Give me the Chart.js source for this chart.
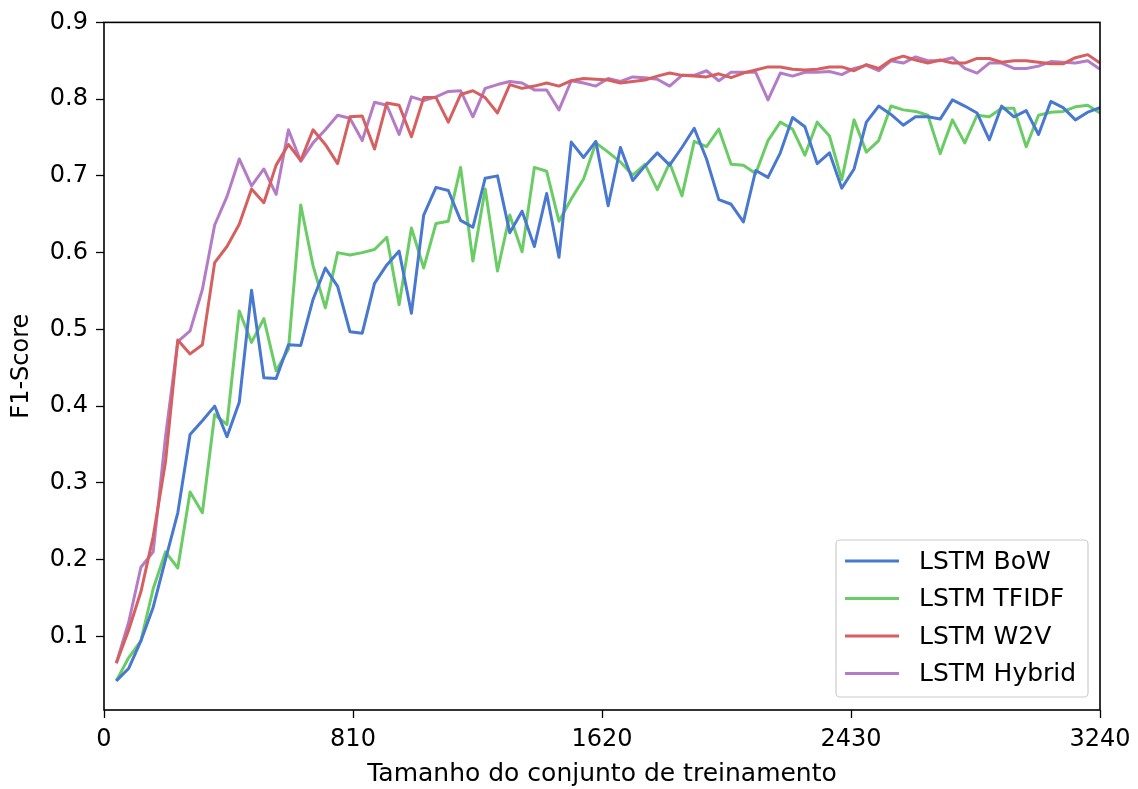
<!DOCTYPE html>
<html lang="pt">
<head>
<meta charset="utf-8">
<title>F1-Score LSTM</title>
<script src="https://cdn.jsdelivr.net/npm/chart.js@4.4.1/dist/chart.umd.min.js"></script>
<style>
    html, body { margin: 0; padding: 0; background: #fff; }
    #plot { display: block; }
</style>
</head>
<body>
<canvas id="plot" width="1138" height="789"></canvas>
<script>
'use strict';

// tamanho do conjunto de treinamento (eixo x)
const trainSizes = [
    40, 80, 120, 160, 200, 240, 280, 320, 360, 400,
    440, 480, 520, 560, 600, 640, 680, 720, 760, 800,
    840, 880, 920, 960, 1000, 1040, 1080, 1120, 1160, 1200,
    1240, 1280, 1320, 1360, 1400, 1440, 1480, 1520, 1560, 1600,
    1640, 1680, 1720, 1760, 1800, 1840, 1880, 1920, 1960, 2000,
    2040, 2080, 2120, 2160, 2200, 2240, 2280, 2320, 2360, 2400,
    2440, 2480, 2520, 2560, 2600, 2640, 2680, 2720, 2760, 2800,
    2840, 2880, 2920, 2960, 3000, 3040, 3080, 3120, 3160, 3200,
    3240
];

const bowScores = [
    0.042, 0.058, 0.094, 0.138, 0.200, 0.261, 0.363, 0.381, 0.400, 0.360,
    0.405, 0.551, 0.437, 0.436, 0.480, 0.479, 0.539, 0.580, 0.556, 0.497,
    0.495, 0.560, 0.584, 0.602, 0.521, 0.649, 0.685, 0.681, 0.642, 0.633,
    0.697, 0.700, 0.626, 0.654, 0.608, 0.677, 0.594, 0.744, 0.724, 0.745,
    0.661, 0.737, 0.694, 0.713, 0.730, 0.714, 0.737, 0.762, 0.722, 0.669,
    0.663, 0.640, 0.707, 0.698, 0.730, 0.776, 0.764, 0.716, 0.730, 0.684,
    0.709, 0.770, 0.791, 0.780, 0.766, 0.777, 0.777, 0.774, 0.799, 0.791,
    0.782, 0.747, 0.791, 0.777, 0.785, 0.754, 0.797, 0.789, 0.773, 0.783,
    0.789
];

const tfidfScores = [
    0.042, 0.072, 0.094, 0.162, 0.210, 0.189, 0.288, 0.261, 0.389, 0.376,
    0.524, 0.483, 0.514, 0.446, 0.474, 0.662, 0.583, 0.528, 0.600, 0.597,
    0.600, 0.604, 0.620, 0.532, 0.632, 0.580, 0.638, 0.641, 0.711, 0.589,
    0.683, 0.576, 0.649, 0.601, 0.711, 0.706, 0.641, 0.670, 0.696, 0.743,
    0.731, 0.718, 0.701, 0.715, 0.682, 0.717, 0.674, 0.745, 0.738, 0.761,
    0.715, 0.714, 0.703, 0.746, 0.770, 0.761, 0.727, 0.770, 0.752, 0.695,
    0.773, 0.731, 0.746, 0.791, 0.786, 0.784, 0.779, 0.729, 0.773, 0.743,
    0.779, 0.777, 0.788, 0.788, 0.738, 0.779, 0.783, 0.784, 0.790, 0.792,
    0.782
];

const w2vScores = [
    0.065, 0.108, 0.158, 0.230, 0.327, 0.486, 0.468, 0.480, 0.587, 0.608,
    0.637, 0.683, 0.665, 0.714, 0.741, 0.720, 0.760, 0.741, 0.716, 0.777,
    0.778, 0.735, 0.795, 0.792, 0.751, 0.802, 0.802, 0.770, 0.806, 0.811,
    0.802, 0.782, 0.819, 0.814, 0.817, 0.821, 0.817, 0.824, 0.827, 0.826,
    0.825, 0.821, 0.823, 0.825, 0.830, 0.834, 0.831, 0.830, 0.829, 0.833,
    0.828, 0.834, 0.838, 0.842, 0.842, 0.839, 0.838, 0.839, 0.842, 0.842,
    0.837, 0.845, 0.840, 0.851, 0.856, 0.851, 0.847, 0.851, 0.847, 0.847,
    0.853, 0.853, 0.848, 0.850, 0.850, 0.848, 0.846, 0.846, 0.854, 0.858,
    0.847
];

const hybridScores = [
    0.065, 0.118, 0.190, 0.210, 0.360, 0.484, 0.498, 0.552, 0.636, 0.673,
    0.722, 0.687, 0.709, 0.676, 0.760, 0.719, 0.743, 0.760, 0.779, 0.775,
    0.746, 0.796, 0.792, 0.754, 0.803, 0.798, 0.803, 0.810, 0.811, 0.777,
    0.814, 0.819, 0.823, 0.821, 0.812, 0.812, 0.786, 0.824, 0.821, 0.817,
    0.827, 0.823, 0.829, 0.828, 0.826, 0.817, 0.831, 0.831, 0.837, 0.824,
    0.835, 0.835, 0.835, 0.799, 0.834, 0.830, 0.835, 0.835, 0.836, 0.832,
    0.840, 0.844, 0.837, 0.850, 0.847, 0.855, 0.850, 0.850, 0.854, 0.840,
    0.834, 0.847, 0.847, 0.840, 0.840, 0.843, 0.849, 0.848, 0.847, 0.850,
    0.839
];

const seriesNames = ["LSTM BoW", "LSTM TFIDF", "LSTM W2V", "LSTM Hybrid"];
const seriesColors = ["#4878CF", "#6ACC65", "#D65F5F", "#B47CC7"];

const xTicks = [0, 810, 1620, 2430, 3240];
const yTicks = [0.1, 0.2, 0.3, 0.4, 0.5, 0.6, 0.7, 0.8, 0.9];

const FONT = "'DejaVu Sans', sans-serif";
const TICK_SIZE = 24;
const LABEL_SIZE = 25;

function toPoints(values) {
    return values.map((v, i) => ({ x: trainSizes[i], y: v }));
}

// matplotlib-style frame around the plot area
const framePlugin = {
    id: "frame",
    afterDatasetsDraw(chart) {
        const { ctx, chartArea: a } = chart;
        ctx.save();
        ctx.strokeStyle = "#000";
        ctx.lineWidth = 1.6;
        ctx.strokeRect(a.left, a.top, a.right - a.left, a.bottom - a.top);
        ctx.restore();
    }
};

// legend box in the lower right corner of the axes
const cornerLegendPlugin = {
    id: "cornerLegend",
    afterDraw(chart) {
        const { ctx, chartArea: a } = chart;
        const sets = chart.data.datasets;
        const rowH = 37.5;
        const boxW = 252;
        const boxH = rowH * sets.length + 7;
        const x0 = a.right - 12 - boxW;
        const y0 = a.bottom - 13 - boxH;

        ctx.save();
        ctx.beginPath();
        ctx.roundRect(x0, y0, boxW, boxH, 4);
        ctx.fillStyle = "rgba(255,255,255,0.8)";
        ctx.fill();
        ctx.strokeStyle = "#cccccc";
        ctx.lineWidth = 1.2;
        ctx.stroke();

        ctx.font = `${LABEL_SIZE}px ${FONT}`;
        ctx.textBaseline = "middle";
        ctx.fillStyle = "#000";
        sets.forEach((ds, i) => {
            const cy = y0 + 21 + i * rowH;
            ctx.beginPath();
            ctx.moveTo(x0 + 9, cy);
            ctx.lineTo(x0 + 63, cy);
            ctx.strokeStyle = ds.borderColor;
            ctx.lineWidth = ds.borderWidth;
            ctx.stroke();
            ctx.fillText(ds.label, x0 + 83, cy + 1);
        });
        ctx.restore();
    }
};

const datasets = [bowScores, tfidfScores, w2vScores, hybridScores].map((values, i) => ({
    label: seriesNames[i],
    data: toPoints(values),
    borderColor: seriesColors[i],
    backgroundColor: seriesColors[i],
    borderWidth: 3,
    pointRadius: 0,
    tension: 0,
    borderJoinStyle: "round",
    fill: false
}));

Chart.defaults.font.family = FONT;
Chart.defaults.font.size = TICK_SIZE;
Chart.defaults.color = "#000";

new Chart(document.getElementById("plot"), {
    type: "line",
    data: { datasets },
    options: {
        responsive: false,
        animation: false,
        devicePixelRatio: 1,
        layout: { padding: { top: 16, right: 38, left: 0, bottom: 0 } },
        plugins: {
            legend: { display: false },
            tooltip: { enabled: false }
        },
        scales: {
            x: {
                type: "linear",
                min: 0,
                max: 3240,
                afterBuildTicks: scale => { scale.ticks = xTicks.map(v => ({ value: v })); },
                afterFit: scale => { scale.height = 79; },
                ticks: { padding: 7, maxRotation: 0, autoSkip: false, callback: v => String(v) },
                grid: { drawOnChartArea: false, drawTicks: true, tickLength: 8, tickColor: "#000", tickWidth: 1.3 },
                border: { display: false },
                title: {
                    display: true,
                    text: "Tamanho do conjunto de treinamento",
                    font: { size: LABEL_SIZE },
                    padding: { top: 0, bottom: 0 }
                }
            },
            y: {
                min: 0.004,
                max: 0.9,
                afterBuildTicks: scale => { scale.ticks = yTicks.map(v => ({ value: v })); },
                afterFit: scale => { scale.width = 104; },
                ticks: { padding: 8, autoSkip: false, callback: v => v.toFixed(1) },
                grid: { drawOnChartArea: false, drawTicks: true, tickLength: 8, tickColor: "#000", tickWidth: 1.3 },
                border: { display: false },
                title: {
                    display: true,
                    text: "F1-Score",
                    padding: { top: 7, bottom: 0 }
                }
            }
        }
    },
    plugins: [framePlugin, cornerLegendPlugin]
});
</script>
</body>
</html>
